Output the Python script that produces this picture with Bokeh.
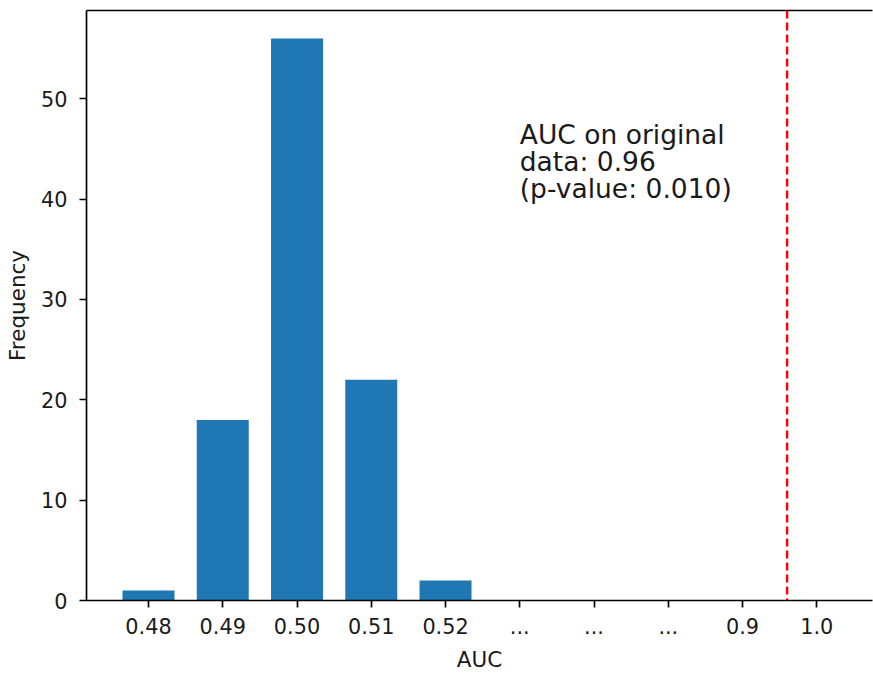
from bokeh.plotting import figure
from bokeh.models import ColumnDataSource, FixedTicker, Range1d, Span, LinearAxis
from bokeh.core.properties import value
from bokeh.embed import file_html
from bokeh.resources import INLINE

# ---- data ----
tick_labels = ["0.48", "0.49", "0.50", "0.51", "0.52", "...", "...", "...", "0.9", "1.0"]
bar_positions = [0, 1, 2, 3, 4]
frequencies = [1, 18, 56, 22, 2]
original_auc_position = 8.6   # 0.96 on the compressed axis
annotation_lines = ["AUC on original", "data: 0.96", "(p-value: 0.010)"]

FONT = "DejaVu Sans"
TXT = "#1a1a1a"

p = figure(width=873, height=674, output_backend="svg", toolbar_location=None,
           x_range=Range1d(-0.835, 9.75), y_range=Range1d(0, 58.8),
           min_border_left=86, min_border_right=1, min_border_top=10, min_border_bottom=5)
p.outline_line_color = None
p.grid.visible = False
p.background_fill_color = "white"

src = ColumnDataSource(dict(x=bar_positions, top=frequencies))
p.vbar(x="x", top="top", width=0.7, bottom=0, source=src, fill_color="#1f77b4", line_color=None)

p.add_layout(Span(location=original_auc_position, dimension="height",
                  line_color="red", line_width=2.4, line_dash="8 4"))

# annotation (three lines)
y0 = 46.4
dy = 2.68
for i, t in enumerate(annotation_lines):
    p.text(x=[5.0], y=[y0 - i * dy], text=[t], text_font=value(FONT),
           text_font_size="26.5px", text_color=TXT, text_baseline="alphabetic", text_align="left")

for ax in (p.xaxis[0], p.yaxis[0]):
    ax.axis_line_width = 1.7
    ax.axis_line_color = "black"
    ax.major_tick_line_width = 1.7
    ax.major_tick_line_color = "black"
    ax.major_tick_out = 7
    ax.major_tick_in = 0
    ax.minor_tick_line_color = None
    ax.major_label_text_font = FONT
    ax.major_label_text_font_size = "20.8px"
    ax.major_label_text_color = TXT
    ax.axis_label_text_font = FONT
    ax.axis_label_text_font_size = "21.5px"
    ax.axis_label_text_font_style = "normal"
    ax.axis_label_text_color = TXT

p.xaxis.ticker = FixedTicker(ticks=list(range(len(tick_labels))))
p.xaxis.major_label_overrides = {i: t for i, t in enumerate(tick_labels)}
p.xaxis.axis_label = "AUC"
p.xaxis.major_label_standoff = 10
p.xaxis.axis_label_standoff = 10

p.yaxis.ticker = FixedTicker(ticks=[0, 10, 20, 30, 40, 50])
p.yaxis.axis_label = "Frequency"
p.yaxis.major_label_standoff = 12
p.yaxis.axis_label_standoff = 8

top_axis = LinearAxis(ticker=FixedTicker(ticks=[]), major_label_text_font_size="0px",
                      axis_line_width=1.7, axis_line_color="black",
                      major_tick_line_color=None, minor_tick_line_color=None)
p.add_layout(top_axis, "above")

open("out.html", "w").write(file_html(p, INLINE))
